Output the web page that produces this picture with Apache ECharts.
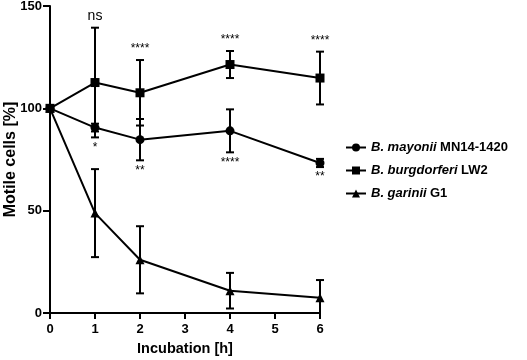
<!DOCTYPE html>
<html>
<head>
<meta charset="utf-8">
<script src="https://cdn.jsdelivr.net/npm/echarts@6/dist/echarts.min.js"></script>
<style>
  html, body { margin: 0; padding: 0; background: #fff; }
  #chart { width: 527px; height: 360px; }
</style>
</head>
<body>
<div id="chart"></div>
<script>
const hours = [0, 1, 2, 4, 6];
const mayoniiMean = [100, 90.6, 84.7, 89.0, 73.3];
const mayoniiErr = [0, 1.9, 10.1, 10.5, 2.0];
const burgMean = [100, 112.6, 107.6, 121.4, 114.8];
const burgErr = [0, 26.8, 16.0, 6.6, 12.9];
const gariniiMean = [100, 48.8, 26.0, 10.9, 7.4];
const gariniiErr = [0, 21.5, 16.4, 8.7, 8.7];
// significance marks: above burgdorferi, below mayonii
const sigAbove = ["", "ns", "****", "****", "****"];
const sigBelow = ["", "*", "**", "****", "**"];
const yTicks = [0, 50, 100, 150];

const FONT = "Liberation Sans, Arial, sans-serif";
const mc = echarts.init(document.getElementById("chart"));

function pairs(mean) {
  return hours.map((h, i) => [h, mean[i]]);
}
function errData(mean, err) {
  return hours.map((h, i) => [h, mean[i], err[i]]).filter((d) => d[2] > 0);
}

function renderErr(params, api) {
  const x = api.value(0);
  const m = api.value(1);
  const e = api.value(2);
  const top = api.coord([x, m + e]);
  const bot = api.coord([x, Math.max(0, m - e)]);
  const hw = 4;
  const style = { stroke: "#000", lineWidth: 2 };
  const kids = [
    { type: "line", shape: { x1: top[0], y1: top[1], x2: bot[0], y2: bot[1] }, style },
    { type: "line", shape: { x1: top[0] - hw, y1: top[1], x2: top[0] + hw, y2: top[1] }, style },
  ];
  if (m - e > 0) {
    kids.push({ type: "line", shape: { x1: bot[0] - hw, y1: bot[1], x2: bot[0] + hw, y2: bot[1] }, style });
  }
  return { type: "group", children: kids };
}

// label data: [x, upper end, lower end, above text, below text]
const sigData = hours.map((h, i) => [
  h,
  burgMean[i] + burgErr[i],
  Math.min(mayoniiMean[i] - mayoniiErr[i], burgMean[i] - burgErr[i]),
  sigAbove[i],
  sigBelow[i],
]).filter((d) => d[3] || d[4]);

function renderSig(params, api) {
  const x = api.value(0);
  const up = api.coord([x, api.value(1)]);
  const lo = api.coord([x, api.value(2)]);
  const d = sigData[params.dataIndex];
  const kids = [];
  if (d[3]) {
    const isNs = d[3] === "ns";
    kids.push({
      type: "text",
      style: {
        x: up[0], y: up[1] - 5, text: d[3], align: "center", verticalAlign: "bottom",
        font: (isNs ? "14px " : "12px ") + FONT, fill: "#000",
      },
    });
  }
  if (d[4]) {
    kids.push({
      type: "text",
      style: {
        x: lo[0], y: lo[1] + 4, text: d[4], align: "center", verticalAlign: "top",
        font: "12px " + FONT, fill: "#000",
      },
    });
  }
  return { type: "group", children: kids };
}

const names = ["B. mayonii MN14-1420", "B. burgdorferi LW2", "B. garinii G1"];
const richNames = {
  "B. mayonii MN14-1420": "{i|B. mayonii} {b|MN14-1420}",
  "B. burgdorferi LW2": "{i|B. burgdorferi} {b|LW2}",
  "B. garinii G1": "{i|B. garinii} {b|G1}",
};

function lineSeries(name, data, symbol, z) {
  return {
    name: name,
    type: "line",
    data: data,
    symbol: symbol,
    symbolSize: 9,
    z: z,
    lineStyle: { color: "#000", width: 2 },
    itemStyle: { color: "#000", borderWidth: 0 },
    emphasis: { disabled: true },
  };
}
function errSeries(mean, err) {
  return {
    type: "custom",
    data: errData(mean, err),
    renderItem: renderErr,
    z: 3,
    silent: true,
  };
}

const tickStyle = { fontFamily: FONT, fontSize: 13, fontWeight: "bold", color: "#000" };

const option = {
  animation: false,
  textStyle: { fontFamily: FONT },
  grid: { left: 50, right: 207, top: 6, bottom: 47, outerBoundsMode: "none", containLabel: false },
  legend: {
    data: names,
    orient: "vertical",
    left: 340,
    top: 136,
    itemWidth: 20,
    itemHeight: 10,
    itemGap: 10,
    formatter: (n) => richNames[n],
    textStyle: {
      color: "#000",
      rich: {
        i: { fontFamily: FONT, fontSize: 13, fontWeight: "bold", fontStyle: "italic", color: "#000" },
        b: { fontFamily: FONT, fontSize: 13, fontWeight: "bold", color: "#000" },
      },
    },
  },
  xAxis: {
    type: "value",
    min: 0,
    max: 6,
    interval: 1,
    name: "Incubation [h]",
    nameLocation: "middle",
    nameGap: 28,
    nameMoveOverlap: false,
    nameTextStyle: { fontFamily: FONT, fontSize: 14.5, fontWeight: "bold", color: "#000" },
    axisLine: { lineStyle: { color: "#000", width: 2 } },
    axisTick: { show: true, length: 6, lineStyle: { color: "#000", width: 2 } },
    axisLabel: Object.assign({ margin: 10 }, tickStyle),
    splitLine: { show: false },
  },
  yAxis: {
    type: "value",
    min: yTicks[0],
    max: yTicks[yTicks.length - 1],
    interval: 50,
    name: "Motile cells [%]",
    nameLocation: "middle",
    nameRotate: 90,
    nameGap: 31,
    nameMoveOverlap: false,
    nameTextStyle: { fontFamily: FONT, fontSize: 16, fontWeight: "bold", color: "#000" },
    axisLine: { show: true, lineStyle: { color: "#000", width: 2 } },
    axisTick: { show: true, length: 7, lineStyle: { color: "#000", width: 2 } },
    axisLabel: Object.assign({ margin: 8 }, tickStyle),
    splitLine: { show: false },
  },
  series: [
    lineSeries(names[0], pairs(mayoniiMean), "circle", 4),
    lineSeries(names[1], pairs(burgMean), "rect", 6),
    lineSeries(names[2], pairs(gariniiMean), "triangle", 5),
    errSeries(mayoniiMean, mayoniiErr),
    errSeries(burgMean, burgErr),
    errSeries(gariniiMean, gariniiErr),
    {
      type: "custom",
      data: sigData.map((d) => [d[0], d[1], d[2]]),
      renderItem: renderSig,
      z: 7,
      silent: true,
    },
  ],
};

mc.setOption(option);
</script>
</body>
</html>
